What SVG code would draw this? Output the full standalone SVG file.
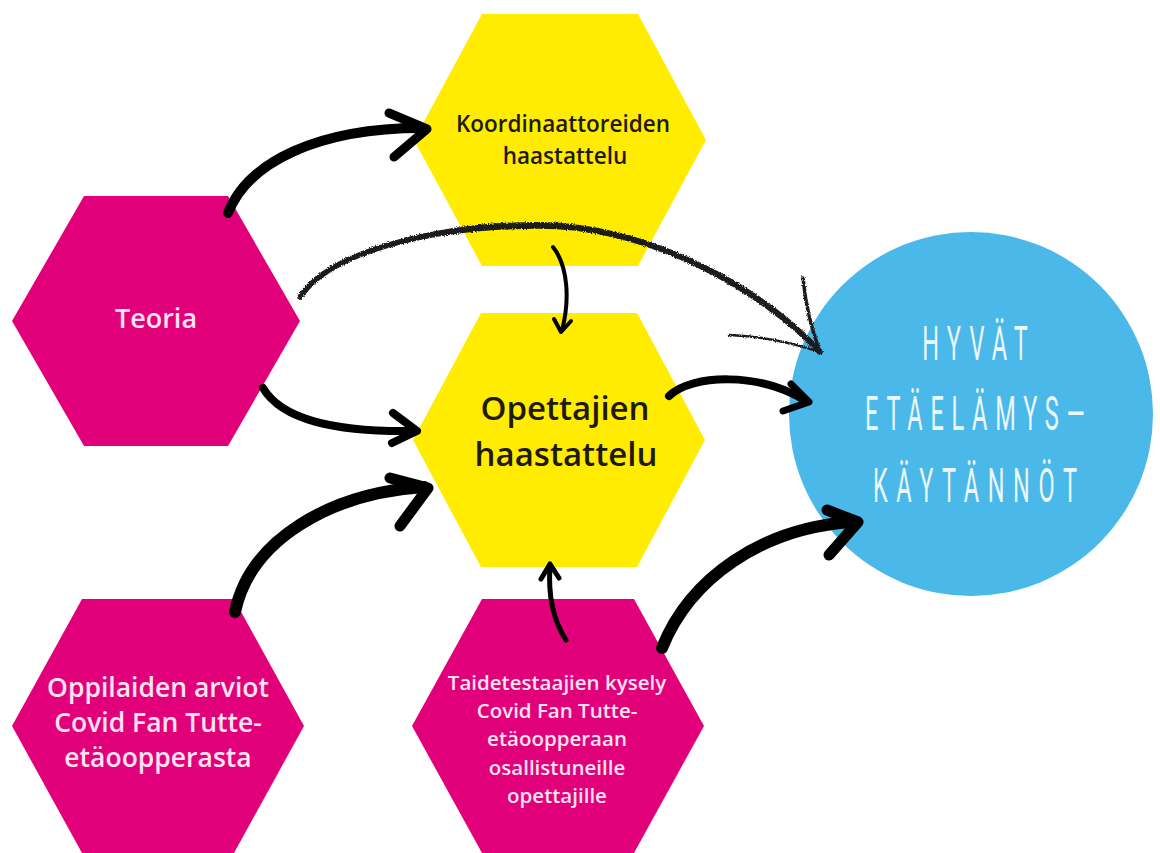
<svg xmlns="http://www.w3.org/2000/svg" width="1160" height="853" viewBox="0 0 1160 853">
<style>
.pink{fill:#E2007A}
.yellow{fill:#FFEC00}
.blue{fill:#4AB8E8}
.tp{font-family:"Open Sans","Noto Sans",sans-serif;font-weight:600;fill:#FDE3F1;text-anchor:middle}
.ty{font-family:"Open Sans","Noto Sans",sans-serif;font-weight:600;fill:#1E1A10;text-anchor:middle}
.tc{font-family:Roboto,"DejaVu Sans",sans-serif;font-weight:400;fill:#EAF7FD;text-anchor:middle;font-size:49px}
.thick{fill:none;stroke:#000;stroke-linecap:round;stroke-linejoin:round}
.sketch{fill:none;stroke:#1e1e1e;stroke-linecap:round;stroke-linejoin:round}
</style>
<defs>
<filter id="rough" x="-10%" y="-10%" width="120%" height="120%">
<feTurbulence type="fractalNoise" baseFrequency="0.9" numOctaves="2" seed="3" result="n"/>
<feDisplacementMap in="SourceGraphic" in2="n" scale="3.5" xChannelSelector="R" yChannelSelector="G"/>
</filter>
</defs>
<rect width="1160" height="853" fill="#FFFFFF"/>

<g id="node-koordinaattoreiden">
<polygon class="yellow" points="414,140 482,14 638,14 706,140 638,266 482,266"/>
<text class="ty" font-size="22.5" x="563" y="132">Koordinaattoreiden</text>
<text class="ty" font-size="22.5" x="565" y="164">haastattelu</text>
</g>
<g id="node-opettajien">
<polygon class="yellow" points="413,440 481,313 637,313 705,440 637,567 481,567"/>
<text class="ty" font-size="33" x="565" y="420">Opettajien</text>
<text class="ty" font-size="33" x="566" y="466">haastattelu</text>
</g>
<g id="node-teoria">
<polygon class="pink" points="12,321 84,196 228,196 300,321 228,446 84,446"/>
<text class="tp" font-size="27" x="156" y="328">Teoria</text>
</g>
<g id="node-oppilaiden">
<polygon class="pink" points="12,726 82,599 234,599 304,726 234,853 82,853"/>
<text class="tp" font-size="26.5" x="158" y="697">Oppilaiden arviot</text>
<text class="tp" font-size="26.5" x="158" y="732">Covid Fan Tutte-</text>
<text class="tp" font-size="26.5" x="158" y="767">etäoopperasta</text>
</g>
<g id="node-taidetestaajien">
<polygon class="pink" points="412,726 482,599 634,599 704,726 634,853 482,853"/>
<text class="tp" font-size="20.5" x="557" y="690">Taidetestaajien kysely</text>
<text class="tp" font-size="20.5" x="557" y="718">Covid Fan Tutte-</text>
<text class="tp" font-size="20.5" x="557" y="746">etäoopperaan</text>
<text class="tp" font-size="20.5" x="557" y="775">osallistuneille</text>
<text class="tp" font-size="20.5" x="557" y="803">opettajille</text>
</g>
<g id="node-hyvat">
<circle class="blue" cx="971" cy="414" r="182"/>
<g transform="translate(975 0) scale(0.48 1)">
<text class="tc" x="0" y="360" textLength="220" lengthAdjust="spacing">HYVÄT</text>
<text class="tc" x="0" y="430" textLength="458" lengthAdjust="spacing">ETÄELÄMYS—</text>
<text class="tc" x="0" y="502" textLength="425" lengthAdjust="spacing">KÄYTÄNNÖT</text>
</g>
</g>

<g id="connectors">
<!-- Teoria -> Koordinaattoreiden -->
<path class="thick" stroke-width="10" d="M228,213 C248,162 318,128 422,128"/>
<path class="thick" stroke-width="9" d="M389,113 L427,129 L394,157"/>
<!-- Teoria -> Opettajien -->
<path class="thick" stroke-width="8" d="M263,388 C282,420 335,432 412,431"/>
<path class="thick" stroke-width="8" d="M393,413 L417,431 L392,443"/>
<!-- Koordinaattoreiden -> Opettajien -->
<path class="thick" stroke-width="4" d="M553,247 C568,266 570,300 562,330"/>
<path class="thick" stroke-width="4" d="M554,319 L561,332 L571,321"/>
<!-- Opettajien -> Hyvät -->
<path class="thick" stroke-width="8" d="M669,396 C692,374 760,372 806,401"/>
<path class="thick" stroke-width="7" d="M791,384 L809,402 L783,411"/>
<!-- Taidetestaajien -> Opettajien -->
<path class="thick" stroke-width="5" d="M566,640 C553,620 548,595 550,566"/>
<path class="thick" stroke-width="5" d="M541,579 L550,564 L559,578"/>
<!-- Taidetestaajien -> Hyvät -->
<path class="thick" stroke-width="12" d="M662,648 C690,578 762,528 852,522"/>
<path class="thick" stroke-width="11" d="M827,510 L858,522 L829,555"/>
<!-- Oppilaiden -> Opettajien -->
<path class="thick" stroke-width="12" d="M235,612 C250,540 330,493 424,487"/>
<path class="thick" stroke-width="11" d="M390,478 L428,488 L400,526"/>
<!-- Teoria -> Hyvät (sketchy) -->
<g filter="url(#rough)">
<path class="sketch" stroke-width="5.5" d="M300,297 C330,252 430,226 540,226 C650,226 762,290 820,352"/>
<path class="sketch" stroke-width="2" d="M304,293 C336,250 436,222 544,223 C652,226 760,286 818,347"/>
<path class="sketch" stroke-width="3.5" d="M803,278 C805,300 810,325 820,352"/>
<path class="sketch" stroke-width="2.5" d="M729,335 C760,336 790,342 820,352"/>
</g>
</g>
</svg>
